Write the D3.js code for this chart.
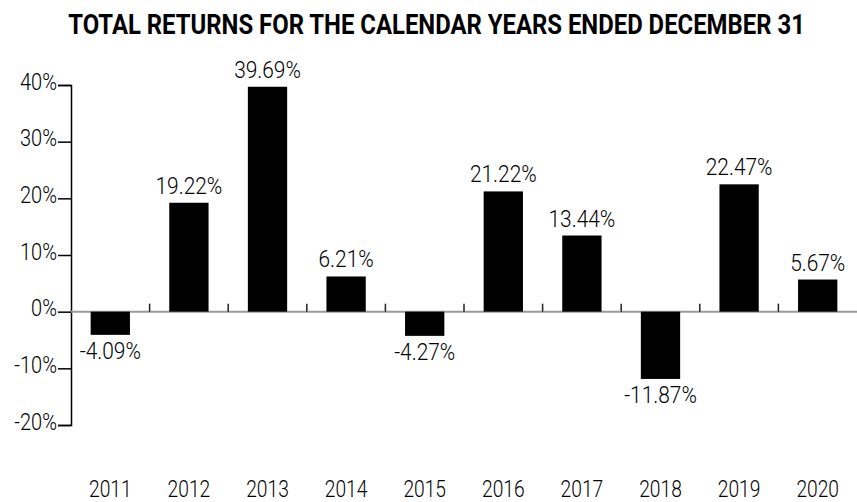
<!DOCTYPE html>
<html>
<head>
<meta charset="utf-8">
<script src="https://cdn.jsdelivr.net/npm/d3@7"></script>
<style>
  body { margin: 0; background: #fff; }
  svg text { font-family: Roboto, "Liberation Sans", sans-serif; fill: #000; }
</style>
</head>
<body>
<div id="chart"></div>
<script>
"use strict"

var years = ['2011', '2012', '2013', '2014', '2015', '2016', '2017', '2018', '2019', '2020'];
var returns = [-4.09, 19.22, 39.69, 6.21, -4.27, 21.22, 13.44, -11.87, 22.47, 5.67];
var yTicks = [-20, -10, 0, 10, 20, 30, 40];

var width = 857,
  height = 502,
  marginLeft = 71,
  plotTop = 85,
  plotBottom = 425,
  titleWidth = 737,
  pctSqueeze = 0.87,  // fake a condensed face for % labels
  yearSqueeze = 0.8;

var svg = d3.select('#chart').append('svg')
  .attr('width', width)
  .attr('height', height);

var title = svg.append('text')
  .attr('text-anchor', 'middle')
  .style('font-size', '28px')
  .style('font-weight', 'bold')
  .text('TOTAL RETURNS FOR THE CALENDAR YEARS ENDED DECEMBER 31');
// squeeze title to the condensed width of the original
var titleScale = titleWidth / title.node().getComputedTextLength();
title.attr('transform', 'translate(436.5,34) scale(' + titleScale + ',1)');

var x = d3.scaleBand()
  .domain(years)
  .range([marginLeft, width])
  .paddingInner(0.5)
  .paddingOuter(0.25);

var y = d3.scaleLinear()
  .domain([-20, 40])
  .range([plotBottom, plotTop]);

// y axis
var yAxis = d3.axisLeft(y)
  .tickValues(yTicks)
  .tickSize(13)
  .tickPadding(1)
  .tickFormat(d => d + '%');

var yg = svg.append('g')
  .attr('transform', 'translate(' + marginLeft + ',0)')
  .call(yAxis);
yg.select('.domain').attr('stroke', '#000').attr('stroke-width', 1.5);
yg.selectAll('.tick line').attr('stroke-width', 1.5);
yg.selectAll('.tick text')
  .attr('x', 0)
  .attr('dy', 0)
  .attr('transform', 'translate(-14,4) scale(' + pctSqueeze + ',1)')
  .style('font-size', '23px')
  .style('font-weight', 300);

// zero line
svg.append('line')
  .attr('x1', marginLeft)
  .attr('x2', width)
  .attr('y1', y(0))
  .attr('y2', y(0))
  .attr('stroke', '#9a9a9a')
  .attr('stroke-width', 2);

// boundary ticks between years
var step = x.step();
svg.selectAll('.sep')
  .data(years.slice(1))
  .enter()
  .append('line')
  .attr('class', 'sep')
  .attr('x1', d => x(d) - step * 0.25)
  .attr('x2', d => x(d) - step * 0.25)
  .attr('y1', y(0))
  .attr('y2', y(0) - 8)
  .attr('stroke', '#222')
  .attr('stroke-width', 1.5);

// bars
svg.selectAll('.bar')
  .data(returns)
  .enter()
  .append('rect')
  .attr('class', 'bar')
  .attr('x', (d, i) => x(years[i]))
  .attr('y', d => y(Math.max(0, d)))
  .attr('width', x.bandwidth())
  .attr('height', d => Math.abs(y(d) - y(0)))
  .attr('fill', '#000');

// value labels
svg.selectAll('.val')
  .data(returns)
  .enter()
  .append('text')
  .attr('class', 'val')
  .attr('transform', (d, i) => 'translate(' + (x(years[i]) + x.bandwidth() / 2) + ',' +
    (d >= 0 ? y(d) - 9 : y(d) + 24) + ') scale(' + pctSqueeze + ',1)')
  .attr('text-anchor', 'middle')
  .style('font-size', '24px')
  .style('font-weight', 300)
  .text(d => d.toFixed(2) + '%');

// year labels
svg.selectAll('.year')
  .data(years)
  .enter()
  .append('text')
  .attr('class', 'year')
  .attr('transform', d => 'translate(' + (x(d) + x.bandwidth() / 2) + ',497) scale(' + yearSqueeze + ',1)')
  .attr('text-anchor', 'middle')
  .style('font-size', '24px')
  .style('font-weight', 300)
  .text(d => d);
</script>
</body>
</html>
